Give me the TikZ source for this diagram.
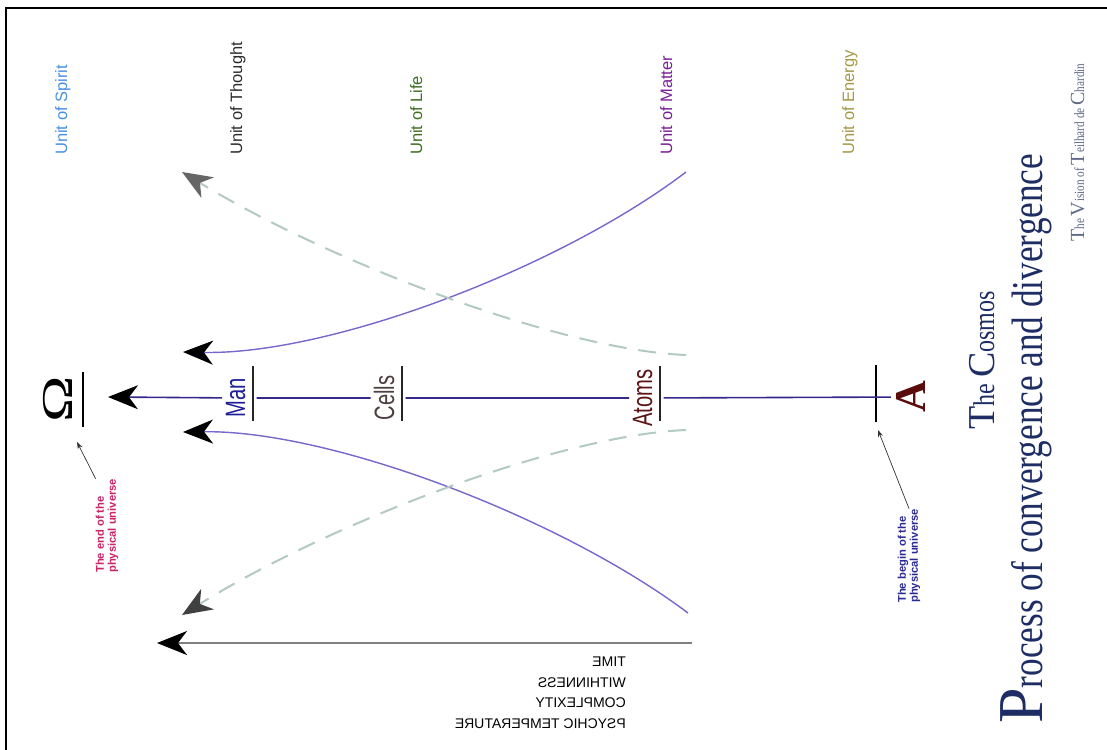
\documentclass[tikz,border=0pt]{standalone}
\usepackage{fontspec}
\usepackage{graphicx}
\usepackage{xcolor}
\usepackage{tikz}
\usetikzlibrary{arrows.meta}
\newfontfamily\labelfont{Liberation Sans}
\newfontfamily\narrowfont[FakeStretch=0.72]{Liberation Sans}
\newfontfamily\seriffont{Liberation Serif}
\newfontfamily\titlefont[FakeStretch=0.8]{Liberation Serif}
\newcommand{\initcap}[2]{{\seriffont\mdseries\fontsize{#1}{#1}\selectfont #2}}
\definecolor{spiritblue}{RGB}{74,144,226}
\definecolor{thoughtgray}{RGB}{45,45,45}
\definecolor{lifegreen}{RGB}{62,110,32}
\definecolor{matterpurple}{RGB}{122,32,150}
\definecolor{energyolive}{RGB}{165,152,70}
\definecolor{axisblue}{RGB}{52,40,140}
\definecolor{curveblue}{RGB}{118,104,204}
\definecolor{dashgreen}{RGB}{178,202,194}
\definecolor{manblue}{RGB}{30,30,150}
\definecolor{cellbrown}{RGB}{78,62,62}
\definecolor{atomred}{RGB}{92,20,20}
\definecolor{alphared}{RGB}{90,12,12}
\definecolor{endpink}{RGB}{204,34,102}
\definecolor{beginblue}{RGB}{42,42,150}
\definecolor{titlenavy}{RGB}{30,45,100}
\definecolor{visiongray}{RGB}{95,105,135}

\begin{document}
\begin{tikzpicture}[x=1pt,y=-1pt,
  unit/.style={rotate=90, anchor=base west, inner sep=0pt, font=\labelfont\fontsize{16.5}{18}\selectfont},
  stage/.style={rotate=90, anchor=base, fill=white, inner sep=3pt, font=\narrowfont\fontsize{28}{28}\selectfont},
  uline/.style={line width=1.4pt, black!85},
  note/.style={rotate=90, anchor=west, align=left, inner sep=0pt, font=\labelfont\bfseries\fontsize{11.2}{12}\selectfont},
  pointer/.style={line width=0.7pt, black!80, -{Stealth[length=7pt,width=5pt]}},
  bigtip/.style={-{Stealth[length=30pt,width=24pt,inset=9pt,color=#1]}},
  bigtip/.default=black,
  solidcurve/.style={curveblue, line width=1.4pt, bigtip},
  dashcurve/.style={dashgreen, line width=2pt, dash pattern=on 18pt off 12pt},
  title/.style={rotate=90, anchor=base west, inner sep=0pt, text=titlenavy}
]
% Frame
\useasboundingbox (0,0) rectangle (1107,749);
\fill[white] (0,0) rectangle (1107,749);
\draw[line width=2.6pt] (6,760) -- (6,8) -- (1120,8);

% Units along the top
\foreach \x/\txt/\col/\nm in {67/Unit of Spirit/spiritblue/spirit, 242/Unit of Thought/thoughtgray/thought, 422/Unit of Life/lifegreen/life, 672/Unit of Matter/matterpurple/matter, 854/Unit of Energy/energyolive/energy}
  \node[unit, text=\col] (\nm) at (\x,155) {\txt};

% Alpha and Omega
\node[rotate=90, anchor=base, inner sep=5pt, text=alphared, font=\seriffont\bfseries\fontsize{44}{44}\selectfont] (alpha) at (925,397) {A};
\node[rotate=90, anchor=base, inner sep=2pt, font=\seriffont\fontsize{44}{44}\selectfont] (omega) at (72,399) {\scalebox{1.42}[1]{Ω}};
\draw[line width=2pt] (83,372) -- (83,427);
\draw[line width=1.5pt] (876,365) -- (876,422);

% Stages on the axis
\foreach \x/\txt/\col/\nm in {245/Man/manblue/man, 394/Cells/cellbrown/cells, 652/Atoms/atomred/atoms}{
  \node[stage, text=\col] (\nm) at (\x,398) {\txt\strut};
  \draw[uline] (\x+8,366) -- (\x+8,421);
}

% Main axis
\coordinate (omegatip) at (108,397);
\draw[axisblue, line width=1.6pt, bigtip] (alpha) -- (atoms) -- (cells) -- (man) -- (omegatip);

% Convergence and divergence
\coordinate (upsolidstart) at (686,172);
\coordinate (upsolidtip) at (183,352);
\coordinate (lowsolidstart) at (688,613);
\coordinate (lowsolidtip) at (183,432);
\coordinate (updashstart) at (686,355);
\coordinate (updashtip) at (182,172);
\coordinate (lowdashstart) at (686,430);
\coordinate (lowdashtip) at (182,615);
\draw[solidcurve] (upsolidstart) .. controls (560,268) and (330,355) .. (upsolidtip);
\draw[solidcurve] (lowsolidstart) .. controls (560,517) and (330,430) .. (lowsolidtip);
\draw[dashcurve, bigtip=black!60] (updashstart) .. controls (560,350) and (330,262) .. (updashtip);
\draw[dashcurve, bigtip=black!75] (lowdashstart) .. controls (560,435) and (330,523) .. (lowdashtip);

% Time arrow
\coordinate (timestart) at (692,643);
\coordinate (timetip) at (157,643);
\draw[black!50, line width=2.4pt, bigtip] (timestart) -- (timetip);
\node[xscale=-1, anchor=north west, align=left, inner sep=0pt, font=\labelfont\fontsize{14}{20.4}\selectfont] (timelabel) at (626,657) {TIME\\WITHINNESS\\COMPLEXITY\\PSYCHIC TEMPERATURE};

% Notes
\node[note, text=endpink] (endnote) at (107,573) {The end of the\\physical universe};
\coordinate (endtip) at (77,442);
\draw[pointer] (endnote.north east) -- (endtip);
\node[note, text=beginblue] (beginnote) at (909,603) {The begin of the\\physical universe};
\coordinate (begintip) at (878,430);
\draw[pointer] (beginnote.east) -- (begintip);

% Titles
\node[title, font=\titlefont\fontsize{30}{34}\selectfont] (cosmos) at (994,430) {\initcap{38}{T}he \initcap{38}{C}osmos};
\node[title, font=\titlefont\fontsize{44}{48}\selectfont] (process) at (1042,724) {\initcap{64}{P}rocess of convergence and divergence};
\node[title, text=visiongray, font=\titlefont\fontsize{14}{16}\selectfont] (vision) at (1084,242) {\initcap{20}{T}he \initcap{20}{V}ision of \initcap{20}{T}eilhard de \initcap{20}{C}hardin};
\end{tikzpicture}
\end{document}
